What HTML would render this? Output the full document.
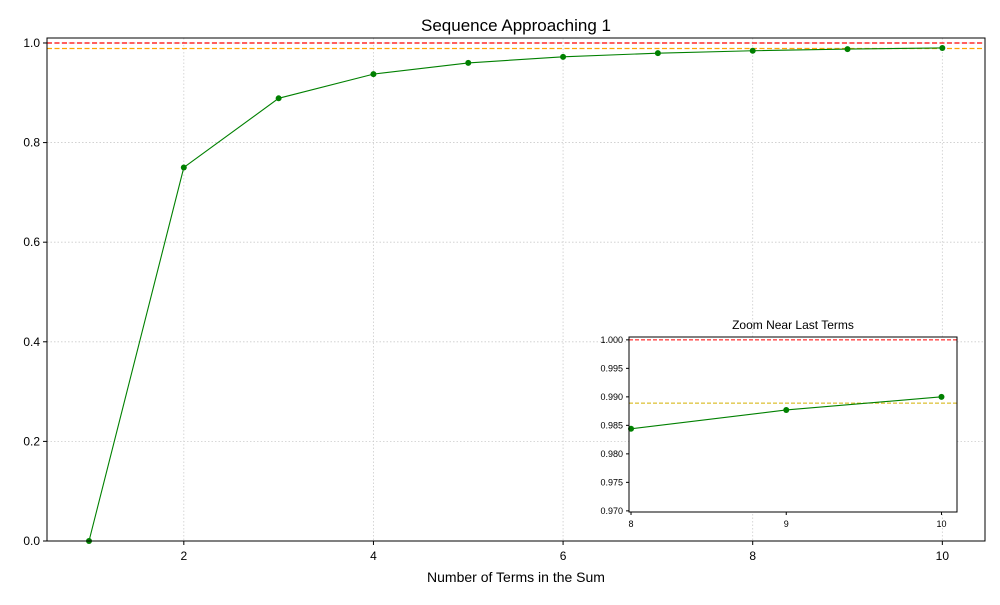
<!DOCTYPE html>
<html><head><meta charset="utf-8"><style>
body{margin:0;background:#fff;font-family:"Liberation Sans",sans-serif}
text{font-family:"Liberation Sans",sans-serif}
</style></head><body>
<svg id="chart" width="1000" height="600" xmlns="http://www.w3.org/2000/svg"></svg>
<script>
const terms=[1,2,3,4,5,6,7,8,9,10];
const values=[0,0.75,0.8889,0.9375,0.96,0.9722,0.9796,0.9844,0.9877,0.99];
const limitValue=1.0;
const refValue=0.9889;
const xTicks=[2,4,6,8,10];
const yTicks=[0,0.2,0.4,0.6,0.8,1.0];
const yTickLabels=["0.0","0.2","0.4","0.6","0.8","1.0"];
const insetX=[8,9,10];
const insetY=[0.970,0.975,0.980,0.985,0.990,0.995,1.000];
const insetYLabels=["0.970","0.975","0.980","0.985","0.990","0.995","1.000"];

const NS="http://www.w3.org/2000/svg";
const svg=document.getElementById('chart');
function mk(tag,attrs,parent,name){const e=document.createElementNS(NS,tag);for(const k in attrs)e.setAttribute(k,attrs[k]);


(parent||svg).appendChild(e);return e;}

function axes(L,R,T,B,x0,x1,y0,y1){return{x:v=>L+(v-x0)/(x1-x0)*(R-L),y:v=>B-(v-y0)/(y1-y0)*(B-T),L,R,T,B};}

// main
const m=axes(47,985,38,541,0.557,10.45,0,1.01);
const g=mk('g',{},svg,'main-plot');
xTicks.forEach(t=>{mk('line',{x1:m.x(t),x2:m.x(t),y1:m.T,y2:m.B,stroke:'#ccc','stroke-dasharray':'1.5,2','stroke-width':0.8},g,'x-grid-line');});
yTicks.forEach(t=>{mk('line',{x1:m.L,x2:m.R,y1:m.y(t),y2:m.y(t),stroke:'#ccc','stroke-dasharray':'1.5,2','stroke-width':0.8},g,'y-grid-line');});
mk('line',{x1:m.L,x2:m.R,y1:m.y(limitValue),y2:m.y(limitValue),stroke:'red','stroke-dasharray':'5,2.5','stroke-width':1.3},g,'limit-line');
mk('line',{x1:m.L,x2:m.R,y1:m.y(refValue),y2:m.y(refValue),stroke:'orange','stroke-dasharray':'5,2.5','stroke-width':1.3},g,'reference-line');
mk('polyline',{points:terms.map((t,i)=>m.x(t)+','+m.y(values[i])).join(' '),fill:'none',stroke:'green','stroke-width':1.1},g,'sequence-line');
terms.forEach((t,i)=>mk('circle',{cx:m.x(t),cy:m.y(values[i]),r:3,fill:'green'},g,'sequence-point'));
mk('rect',{x:m.L,y:m.T,width:m.R-m.L,height:m.B-m.T,fill:'none',stroke:'#000','stroke-width':1},g,'main-frame');
xTicks.forEach(t=>{mk('line',{x1:m.x(t),x2:m.x(t),y1:m.B,y2:m.B+4,stroke:'#000'},g,'x-tick');
const tx=mk('text',{x:m.x(t),y:m.B+19,'text-anchor':'middle','font-size':12},g,'x-tick-label');tx.textContent=t;});
yTicks.forEach((t,i)=>{mk('line',{x1:m.L-4,x2:m.L,y1:m.y(t),y2:m.y(t),stroke:'#000'},g,'y-tick');
const tx=mk('text',{x:m.L-7,y:m.y(t)+4,'text-anchor':'end','font-size':12},g,'y-tick-label');tx.textContent=yTickLabels[i];});
let t1=mk('text',{x:516,y:31,'text-anchor':'middle','font-size':17},g,'chart-title');t1.textContent='Sequence Approaching 1';
let t2=mk('text',{x:516,y:582,'text-anchor':'middle','font-size':14},g,'x-axis-title');t2.textContent='Number of Terms in the Sum';

// inset
const n=axes(629,957,337,512,7.987,10.1,0.9698,1.0005);
const gi=mk('g',{},svg,'inset-plot');
mk('rect',{x:n.L,y:n.T,width:n.R-n.L,height:n.B-n.T,fill:'#fff'},gi,'inset-background');
mk('line',{x1:n.L,x2:n.R,y1:n.y(limitValue),y2:n.y(limitValue),stroke:'red','stroke-dasharray':'4,2','stroke-width':1},gi,'inset-limit-line');
mk('line',{x1:n.L,x2:n.R,y1:n.y(refValue),y2:n.y(refValue),stroke:'#d4b000','stroke-dasharray':'4,2','stroke-width':1},gi,'inset-reference-line');
const sel=terms.map((t,i)=>[t,values[i]]).filter(p=>p[0]>=8);
mk('polyline',{points:sel.map(p=>n.x(p[0])+','+n.y(p[1])).join(' '),fill:'none',stroke:'green','stroke-width':1.1},gi,'inset-sequence-line');
sel.forEach(p=>mk('circle',{cx:n.x(p[0]),cy:n.y(p[1]),r:3,fill:'green'},gi,'inset-point'));
mk('rect',{x:n.L,y:n.T,width:n.R-n.L,height:n.B-n.T,fill:'none',stroke:'#000','stroke-width':1},gi,'inset-frame');
insetX.forEach(t=>{mk('line',{x1:n.x(t),x2:n.x(t),y1:n.B,y2:n.B+3,stroke:'#000'},gi,'inset-x-tick');
const tx=mk('text',{x:n.x(t),y:n.B+15,'text-anchor':'middle','font-size':9},gi,'inset-x-tick-label');tx.textContent=t;});
insetY.forEach((t,i)=>{mk('line',{x1:n.L-3,x2:n.L,y1:n.y(t),y2:n.y(t),stroke:'#000'},gi,'inset-y-tick');
const tx=mk('text',{x:n.L-6,y:n.y(t)+3,'text-anchor':'end','font-size':9},gi,'inset-y-tick-label');tx.textContent=insetYLabels[i];});
let t3=mk('text',{x:793,y:329,'text-anchor':'middle','font-size':12},gi,'inset-title');t3.textContent='Zoom Near Last Terms';
</script>
</body></html>
